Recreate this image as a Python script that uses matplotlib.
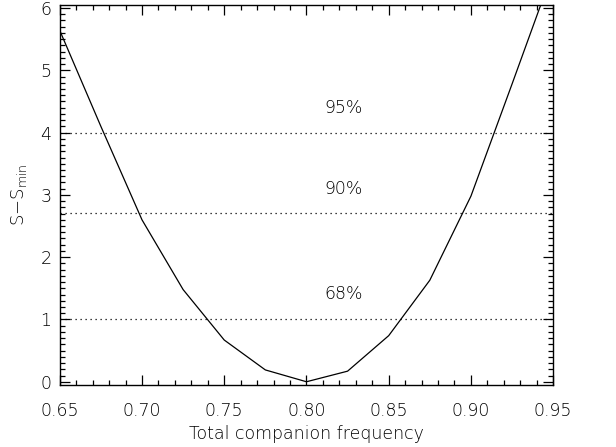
import matplotlib
matplotlib.use("Agg")
import matplotlib.pyplot as plt
from matplotlib.ticker import MultipleLocator, FormatStrFormatter

# ---------- Data ----------
freq = [0.65, 0.675, 0.70, 0.725, 0.75, 0.775, 0.80, 0.825, 0.85, 0.875, 0.90, 0.925, 0.95]
delta_s = [5.64, 4.10, 2.60, 1.48, 0.67, 0.19, 0.0, 0.17, 0.74, 1.63, 2.98, 4.78, 6.60]

levels = [1.0, 2.71, 4.0]
level_labels = ["68%", "90%", "95%"]
label_y = [1.41, 3.09, 4.40]
label_x = 0.8225

plt.rcParams["font.family"] = ["DejaVu Sans"]
plt.rcParams["font.weight"] = "light"
plt.rcParams["axes.labelweight"] = "light"
plt.rcParams["mathtext.fontset"] = "custom"
plt.rcParams["mathtext.rm"] = "DejaVu Sans:light"
plt.rcParams["mathtext.it"] = "DejaVu Sans:light"

fig = plt.figure(figsize=(6.16, 4.47), dpi=100)
ax = fig.add_axes([0.097, 0.139, 0.801, 0.850])

ax.plot(freq, delta_s, color="black", lw=0.9)

for lev, lab, ly in zip(levels, level_labels, label_y):
    ax.axhline(lev, color="black", lw=0.9, ls=(0, (1, 3)))
    ax.text(label_x, ly, lab, ha="center", va="center", fontsize=12.5, color="black")

ax.set_xlim(0.65, 0.95)
ax.set_ylim(-0.05, 6.05)

ax.xaxis.set_major_locator(MultipleLocator(0.05))
ax.xaxis.set_minor_locator(MultipleLocator(0.01))
ax.yaxis.set_major_locator(MultipleLocator(1))
ax.yaxis.set_minor_locator(MultipleLocator(0.1))
ax.xaxis.set_major_formatter(FormatStrFormatter("%.2f"))

ax.tick_params(which="both", direction="in", top=True, right=True, labelsize=12.5, width=0.9)
ax.tick_params(which="major", length=7)
ax.tick_params(which="minor", length=3.5)
ax.tick_params(axis="x", pad=12)
ax.tick_params(axis="y", pad=6)

for s in ax.spines.values():
    s.set_linewidth(1.0)

ax.set_xlabel("Total companion frequency", fontsize=12.5, labelpad=4)
ax.set_ylabel(r"S$-$S$_{\rm min}$", fontsize=13, labelpad=8)

fig.savefig("out.png", dpi=100)
